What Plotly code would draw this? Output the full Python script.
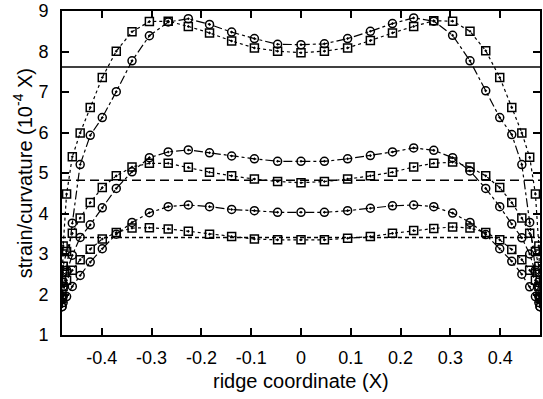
import plotly.graph_objects as go

x_nodes = [-0.48, -0.4777, -0.4708, -0.4593, -0.4435, -0.4233, -0.3991, -0.3710, -0.3394,
           -0.3045, -0.2667, -0.2263, -0.1837, -0.1393, -0.0936, -0.0470, 0.0,
           0.0470, 0.0936, 0.1393, 0.1837, 0.2263, 0.2667, 0.3045, 0.3394,
           0.3710, 0.3991, 0.4233, 0.4435, 0.4593, 0.4708, 0.4777, 0.48]

sq_high = [1.9, 3.2, 4.48, 5.40, 5.99, 6.62, 7.36, 8.01, 8.49, 8.74, 8.75, 8.62, 8.46, 8.26, 8.09, 8.01, 7.97,
           8.01, 8.09, 8.27, 8.46, 8.62, 8.76, 8.75, 8.50, 8.02, 7.36, 6.62, 5.99, 5.39, 4.48, 3.2, 1.9]
ci_high = [1.7, 1.95, 2.6, 3.76, 5.21, 5.93, 6.37, 7.01, 7.77, 8.39, 8.73, 8.81, 8.67, 8.48, 8.32, 8.18, 8.17,
           8.19, 8.32, 8.50, 8.69, 8.83, 8.75, 8.40, 7.77, 7.03, 6.37, 5.95, 5.21, 3.78, 2.6, 1.95, 1.7]
ci_mid = [1.9, 2.2, 2.55, 2.97, 3.41, 3.72, 4.14, 4.62, 5.03, 5.38, 5.52, 5.57, 5.50, 5.42, 5.35, 5.29, 5.29,
          5.29, 5.35, 5.43, 5.52, 5.62, 5.56, 5.38, 5.05, 4.62, 4.17, 3.74, 3.40, 3.00, 2.55, 2.2, 1.9]
sq_mid = [2.3, 2.7, 3.06, 3.51, 3.89, 4.27, 4.64, 4.93, 5.15, 5.24, 5.24, 5.14, 5.02, 4.93, 4.85, 4.79, 4.76,
          4.79, 4.85, 4.93, 5.02, 5.15, 5.24, 5.27, 5.15, 4.93, 4.64, 4.27, 3.89, 3.51, 3.06, 2.7, 2.3]
ci_low = [1.7, 1.8, 1.95, 2.20, 2.47, 2.80, 3.13, 3.49, 3.78, 4.02, 4.17, 4.21, 4.17, 4.10, 4.07, 4.03, 4.03,
          4.03, 4.07, 4.13, 4.19, 4.21, 4.17, 4.01, 3.78, 3.48, 3.13, 2.82, 2.50, 2.19, 1.95, 1.8, 1.7]
sq_low = [2.0, 2.2, 2.35, 2.60, 2.86, 3.12, 3.37, 3.53, 3.64, 3.65, 3.62, 3.56, 3.49, 3.43, 3.37, 3.35, 3.35,
          3.35, 3.39, 3.43, 3.51, 3.58, 3.63, 3.67, 3.64, 3.53, 3.35, 3.11, 2.86, 2.60, 2.35, 2.2, 2.0]

ref_levels = [7.62, 4.82, 3.41]
ref_dashes = ["solid", "9px,5px", "4px,3px"]
x_span = [-0.48, 0.48]

x_ticks = [-0.4, -0.3, -0.2, -0.1, 0, 0.1, 0.2, 0.3, 0.4]
x_tick_labels = ["-0.4", "-0.3", "-0.2", "-0.1", "0", "0.1", "0.2", "0.3", "0.4"]
y_ticks = [1, 2, 3, 4, 5, 6, 7, 8, 9]
y_tick_labels = ["1", "2", "3", "4", "5", "6", "7", "8", "9"]

FONT = "Liberation Sans, Arial, Helvetica, sans-serif"

fig = go.Figure()

for lvl, dash in zip(ref_levels, ref_dashes):
    fig.add_trace(go.Scatter(x=x_span, y=[lvl, lvl], mode="lines",
                             line=dict(color="black", width=1.5, dash=dash),
                             showlegend=False, hoverinfo="skip"))

series = [
    (sq_high, "square-open-dot", "dot"),
    (ci_high, "circle-open-dot", "dashdot"),
    (sq_mid, "square-open-dot", "dot"),
    (ci_mid, "circle-open-dot", "dashdot"),
    (sq_low, "square-open-dot", "dot"),
    (ci_low, "circle-open-dot", "dashdot"),
]
for ys, sym, dash in series:
    fig.add_trace(go.Scatter(x=x_nodes, y=ys, mode="lines+markers",
                             line=dict(color="black", width=1.2, dash=dash),
                             marker=dict(symbol=sym, size=8, color="black",
                                         line=dict(color="black", width=1.5)),
                             showlegend=False))

fig.update_layout(
    width=543, height=399,
    margin=dict(l=62, r=1, t=9, b=64),
    paper_bgcolor="white", plot_bgcolor="white",
    font=dict(family=FONT, size=18, color="black"),
    showlegend=False,
    annotations=[
        dict(text="ridge coordinate (X)", x=0.5, xref="paper", y=-0.141, yref="paper",
             yanchor="middle", xanchor="center", showarrow=False,
             font=dict(family=FONT, size=20, color="black")),
        dict(text="strain/curvature (10<sup>-4</sup> X)", x=-0.083, xref="paper", y=0.5, yref="paper",
             xanchor="center", yanchor="middle", textangle=-90, showarrow=False,
             font=dict(family=FONT, size=20, color="black")),
    ],
)
fig.update_xaxes(range=x_span, tickvals=x_ticks, ticktext=x_tick_labels,
                 ticks="inside", ticklen=7, tickwidth=1.5, tickcolor="black",
                 showline=True, linecolor="black", linewidth=2, mirror="allticks",
                 showgrid=False, zeroline=False, ticklabelstandoff=5)
fig.update_yaxes(range=[1, 9.001], tickvals=y_ticks, ticktext=y_tick_labels,
                 ticks="inside", ticklen=7, tickwidth=1.5, tickcolor="black",
                 showline=True, linecolor="black", linewidth=2, mirror="allticks",
                 showgrid=False, zeroline=False, ticklabelstandoff=8,
                 ticklabeloverflow="allow")

fig.write_html("out.html")
